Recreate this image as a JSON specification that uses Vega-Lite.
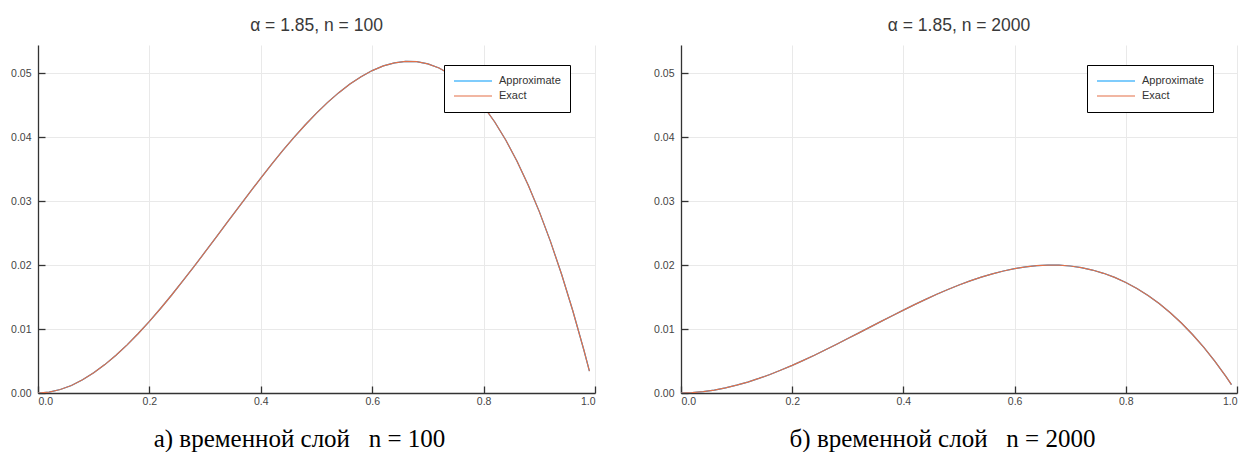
{
  "$schema": "https://vega.github.io/schema/vega-lite/v6.json",
  "background": "white",
  "padding": {"left": 10, "top": 17, "right": 5, "bottom": 0},
  "config": {
    "view": {"stroke": null},
    "font": "Liberation Sans",
    "axis": {
      "domainColor": "#333333",
      "domainWidth": 1.3,
      "tickColor": "#333333",
      "tickWidth": 1.3,
      "tickSize": -7,
      "gridColor": "#e9e9e9",
      "gridWidth": 1,
      "labelFont": "Liberation Sans",
      "labelFontSize": 10.5,
      "labelColor": "#444444",
      "titleFont": "Liberation Serif",
      "titleFontSize": 25,
      "titleFontWeight": "normal",
      "titleColor": "#000000"
    },
    "title": {"font": "Liberation Sans", "fontSize": 17.5, "fontWeight": "normal", "color": "#3a3a3a", "offset": 10.5},
    "legend": {
      "orient": "none",
      "legendX": 406,
      "legendY": 20,
      "strokeColor": "#000000",
      "fillColor": "#ffffff",
      "padding": 9,
      "symbolType": "stroke",
      "symbolSize": 1444,
      "symbolStrokeWidth": 1.2,
      "clipHeight": 14,
      "rowPadding": 1,
      "labelFont": "Liberation Sans",
      "labelFontSize": 11,
      "labelColor": "#333333",
      "labelOffset": 6
    }
  },
  "datasets": {
    "n100": [
      {"x": 0.0, "Approximate": 0.0, "Exact": 0.0},
      {"x": 0.02, "Approximate": 0.00014, "Exact": 0.00014},
      {"x": 0.04, "Approximate": 0.00054, "Exact": 0.00054},
      {"x": 0.06, "Approximate": 0.00118, "Exact": 0.00118},
      {"x": 0.08, "Approximate": 0.00206, "Exact": 0.00206},
      {"x": 0.1, "Approximate": 0.00315, "Exact": 0.00315},
      {"x": 0.12, "Approximate": 0.00444, "Exact": 0.00444},
      {"x": 0.14, "Approximate": 0.0059, "Exact": 0.0059},
      {"x": 0.16, "Approximate": 0.00753, "Exact": 0.00753},
      {"x": 0.18, "Approximate": 0.0093, "Exact": 0.0093},
      {"x": 0.2, "Approximate": 0.0112, "Exact": 0.0112},
      {"x": 0.22, "Approximate": 0.01321, "Exact": 0.01321},
      {"x": 0.24, "Approximate": 0.01532, "Exact": 0.01532},
      {"x": 0.26, "Approximate": 0.01751, "Exact": 0.01751},
      {"x": 0.28, "Approximate": 0.01976, "Exact": 0.01976},
      {"x": 0.3, "Approximate": 0.02205, "Exact": 0.02205},
      {"x": 0.32, "Approximate": 0.02437, "Exact": 0.02437},
      {"x": 0.34, "Approximate": 0.0267, "Exact": 0.0267},
      {"x": 0.36, "Approximate": 0.02903, "Exact": 0.02903},
      {"x": 0.38, "Approximate": 0.03133, "Exact": 0.03133},
      {"x": 0.4, "Approximate": 0.0336, "Exact": 0.0336},
      {"x": 0.42, "Approximate": 0.03581, "Exact": 0.03581},
      {"x": 0.44, "Approximate": 0.03795, "Exact": 0.03795},
      {"x": 0.46, "Approximate": 0.03999, "Exact": 0.03999},
      {"x": 0.48, "Approximate": 0.04193, "Exact": 0.04193},
      {"x": 0.5, "Approximate": 0.04375, "Exact": 0.04375},
      {"x": 0.52, "Approximate": 0.04543, "Exact": 0.04543},
      {"x": 0.54, "Approximate": 0.04695, "Exact": 0.04695},
      {"x": 0.56, "Approximate": 0.04829, "Exact": 0.04829},
      {"x": 0.58, "Approximate": 0.04945, "Exact": 0.04945},
      {"x": 0.6, "Approximate": 0.0504, "Exact": 0.0504},
      {"x": 0.62, "Approximate": 0.05113, "Exact": 0.05113},
      {"x": 0.64, "Approximate": 0.05161, "Exact": 0.05161},
      {"x": 0.66, "Approximate": 0.05184, "Exact": 0.05184},
      {"x": 0.68, "Approximate": 0.05179, "Exact": 0.05179},
      {"x": 0.7, "Approximate": 0.05145, "Exact": 0.05145},
      {"x": 0.72, "Approximate": 0.0508, "Exact": 0.0508},
      {"x": 0.74, "Approximate": 0.04983, "Exact": 0.04983},
      {"x": 0.76, "Approximate": 0.04852, "Exact": 0.04852},
      {"x": 0.78, "Approximate": 0.04685, "Exact": 0.04685},
      {"x": 0.8, "Approximate": 0.0448, "Exact": 0.0448},
      {"x": 0.82, "Approximate": 0.04236, "Exact": 0.04236},
      {"x": 0.84, "Approximate": 0.03951, "Exact": 0.03951},
      {"x": 0.86, "Approximate": 0.03624, "Exact": 0.03624},
      {"x": 0.88, "Approximate": 0.03252, "Exact": 0.03252},
      {"x": 0.9, "Approximate": 0.02835, "Exact": 0.02835},
      {"x": 0.92, "Approximate": 0.0237, "Exact": 0.0237},
      {"x": 0.94, "Approximate": 0.01856, "Exact": 0.01856},
      {"x": 0.96, "Approximate": 0.0129, "Exact": 0.0129},
      {"x": 0.98, "Approximate": 0.00672, "Exact": 0.00672},
      {"x": 0.99, "Approximate": 0.00343, "Exact": 0.00343}
    ],
    "n2000": [
      {"x": 0.0, "Approximate": 0.0, "Exact": 0.0},
      {"x": 0.02, "Approximate": 0.00005, "Exact": 0.00005},
      {"x": 0.04, "Approximate": 0.00021, "Exact": 0.00021},
      {"x": 0.06, "Approximate": 0.00046, "Exact": 0.00046},
      {"x": 0.08, "Approximate": 0.00079, "Exact": 0.00079},
      {"x": 0.1, "Approximate": 0.00122, "Exact": 0.00122},
      {"x": 0.12, "Approximate": 0.00171, "Exact": 0.00171},
      {"x": 0.14, "Approximate": 0.00228, "Exact": 0.00228},
      {"x": 0.16, "Approximate": 0.0029, "Exact": 0.0029},
      {"x": 0.18, "Approximate": 0.00359, "Exact": 0.00359},
      {"x": 0.2, "Approximate": 0.00432, "Exact": 0.00432},
      {"x": 0.22, "Approximate": 0.0051, "Exact": 0.0051},
      {"x": 0.24, "Approximate": 0.00591, "Exact": 0.00591},
      {"x": 0.26, "Approximate": 0.00675, "Exact": 0.00675},
      {"x": 0.28, "Approximate": 0.00762, "Exact": 0.00762},
      {"x": 0.3, "Approximate": 0.00851, "Exact": 0.00851},
      {"x": 0.32, "Approximate": 0.0094, "Exact": 0.0094},
      {"x": 0.34, "Approximate": 0.0103, "Exact": 0.0103},
      {"x": 0.36, "Approximate": 0.0112, "Exact": 0.0112},
      {"x": 0.38, "Approximate": 0.01209, "Exact": 0.01209},
      {"x": 0.4, "Approximate": 0.01296, "Exact": 0.01296},
      {"x": 0.42, "Approximate": 0.01381, "Exact": 0.01381},
      {"x": 0.44, "Approximate": 0.01464, "Exact": 0.01464},
      {"x": 0.46, "Approximate": 0.01543, "Exact": 0.01543},
      {"x": 0.48, "Approximate": 0.01617, "Exact": 0.01617},
      {"x": 0.5, "Approximate": 0.01688, "Exact": 0.01688},
      {"x": 0.52, "Approximate": 0.01752, "Exact": 0.01752},
      {"x": 0.54, "Approximate": 0.01811, "Exact": 0.01811},
      {"x": 0.56, "Approximate": 0.01863, "Exact": 0.01863},
      {"x": 0.58, "Approximate": 0.01907, "Exact": 0.01907},
      {"x": 0.6, "Approximate": 0.01944, "Exact": 0.01944},
      {"x": 0.62, "Approximate": 0.01972, "Exact": 0.01972},
      {"x": 0.64, "Approximate": 0.01991, "Exact": 0.01991},
      {"x": 0.66, "Approximate": 0.01999, "Exact": 0.01999},
      {"x": 0.68, "Approximate": 0.01998, "Exact": 0.01998},
      {"x": 0.7, "Approximate": 0.01985, "Exact": 0.01985},
      {"x": 0.72, "Approximate": 0.0196, "Exact": 0.0196},
      {"x": 0.74, "Approximate": 0.01922, "Exact": 0.01922},
      {"x": 0.76, "Approximate": 0.01871, "Exact": 0.01871},
      {"x": 0.78, "Approximate": 0.01807, "Exact": 0.01807},
      {"x": 0.8, "Approximate": 0.01728, "Exact": 0.01728},
      {"x": 0.82, "Approximate": 0.01634, "Exact": 0.01634},
      {"x": 0.84, "Approximate": 0.01524, "Exact": 0.01524},
      {"x": 0.86, "Approximate": 0.01398, "Exact": 0.01398},
      {"x": 0.88, "Approximate": 0.01255, "Exact": 0.01255},
      {"x": 0.9, "Approximate": 0.01094, "Exact": 0.01094},
      {"x": 0.92, "Approximate": 0.00914, "Exact": 0.00914},
      {"x": 0.94, "Approximate": 0.00716, "Exact": 0.00716},
      {"x": 0.96, "Approximate": 0.00498, "Exact": 0.00498},
      {"x": 0.98, "Approximate": 0.00259, "Exact": 0.00259},
      {"x": 0.99, "Approximate": 0.00132, "Exact": 0.00132}
    ]
  },
  "bounds": "flush",
  "spacing": 86,
  "resolve": {"scale": {"color": "independent", "x": "independent", "y": "independent"}, "legend": {"color": "independent"}},
  "hconcat": [
    {
      "width": 557,
      "height": 348,
      "title": {"text": "α = 1.85, n = 100"},
      "data": {"name": "n100"},
      "transform": [{"fold": ["Approximate", "Exact"], "as": ["series", "u"]}],
      "mark": {"type": "line", "strokeWidth": 1.2, "clip": true},
      "encoding": {
        "x": {"field": "x", "type": "quantitative", "scale": {"domain": [0, 1], "nice": false},
          "axis": {"values": [0, 0.2, 0.4, 0.6, 0.8, 1.0], "format": ".1f", "labelPadding": 10, "title": "а) временной слой\u00a0\u00a0\u00a0n\u00a0=\u00a0100", "titlePadding": 20, "titleX": 261}},
        "y": {"field": "u", "type": "quantitative", "scale": {"domain": [0, 0.0544], "nice": false},
          "axis": {"values": [0, 0.01, 0.02, 0.03, 0.04, 0.05], "format": ".2f", "labelPadding": 14, "title": null}},
        "color": {"field": "series", "type": "nominal", "scale": {"domain": ["Approximate", "Exact"], "range": ["#009AFA", "#E36F47"]}, "legend": {"title": null}}
      }
    },
    {
      "width": 556,
      "height": 348,
      "title": {"text": "α = 1.85, n = 2000"},
      "data": {"name": "n2000"},
      "transform": [{"fold": ["Approximate", "Exact"], "as": ["series", "u"]}],
      "mark": {"type": "line", "strokeWidth": 1.2, "clip": true},
      "encoding": {
        "x": {"field": "x", "type": "quantitative", "scale": {"domain": [0, 1], "nice": false},
          "axis": {"values": [0, 0.2, 0.4, 0.6, 0.8, 1.0], "format": ".1f", "labelPadding": 10, "title": "б) временной слой\u00a0\u00a0\u00a0n\u00a0=\u00a02000", "titlePadding": 20, "titleX": 261}},
        "y": {"field": "u", "type": "quantitative", "scale": {"domain": [0, 0.0544], "nice": false},
          "axis": {"values": [0, 0.01, 0.02, 0.03, 0.04, 0.05], "format": ".2f", "labelPadding": 14, "title": null}},
        "color": {"field": "series", "type": "nominal", "scale": {"domain": ["Approximate", "Exact"], "range": ["#009AFA", "#E36F47"]}, "legend": {"title": null}}
      }
    }
  ]
}
